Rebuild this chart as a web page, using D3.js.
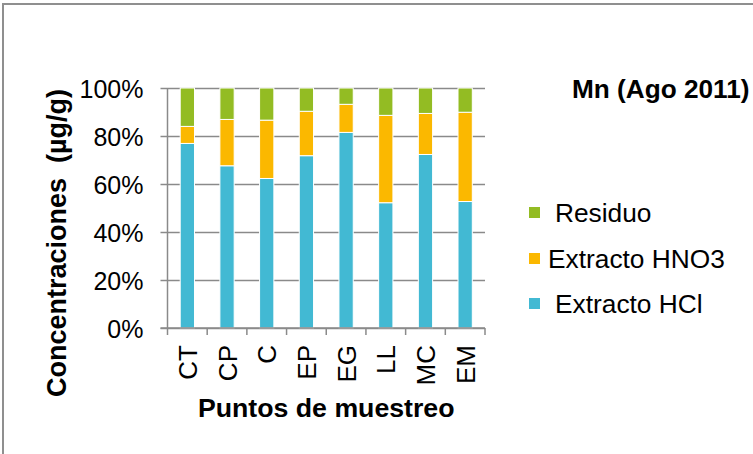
<!DOCTYPE html>
<html>
<head>
<meta charset="utf-8">
<script src="https://cdn.jsdelivr.net/npm/d3@7"></script>
<style>
  body { margin: 0; background: #fff; }
  svg { display: block; font-family: "Liberation Sans", Arial, sans-serif; }
</style>
</head>
<body>
<svg width="753" height="454"></svg>
<script>
// puntos de muestreo
var categories = ["CT", "CP", "C", "EP", "EG", "LL", "MC", "EM"];
// porcentajes
var hcl  = [76.9, 67.6, 62.3, 71.8, 81.5, 52.2, 72.3, 52.7];
var hno3 = [7.1, 19.3, 24.3, 18.5, 11.7, 36.4, 17.1, 37.2];
var residuo = [16.0, 13.1, 13.4, 9.7, 6.8, 11.4, 10.6, 10.1];
var seriesNames = ["Extracto HCl", "Extracto HNO3", "Residuo"];
var seriesColors = ["#42b9d3", "#fbb800", "#93bc23"];
var yTicks = [0, 20, 40, 60, 80, 100];

var svg = d3.select("svg");

// outer frame (only top and left edges are visible)
svg.append("rect")
    .attr("x", 3).attr("y", 4)
    .attr("width", 820).attr("height", 520)
    .attr("fill", "none")
    .attr("stroke", "#8f8f8f")
    .attr("stroke-width", 2);

var x0 = 167.5, x1 = 485, yTop = 88, yBot = 328;
var plotW = x1 - x0;

var x = d3.scaleBand()
    .domain(categories)
    .range([x0, x1])
    .paddingInner(0.64)
    .paddingOuter(0.32);

var y = d3.scaleLinear().domain([0, 100]).range([yBot, yTop]);

// gridlines + y axis labels
var yAxis = svg.append("g")
    .attr("transform", "translate(" + x0 + ",0)")
    .call(d3.axisLeft(y).tickValues(yTicks).tickFormat(function (d) { return d + "%"; }));
yAxis.select(".domain").remove();
yAxis.selectAll(".tick line")
    .attr("x1", -7).attr("x2", plotW)
    .attr("stroke", "#8a8a8a").attr("stroke-width", 1.5);
yAxis.selectAll(".tick text")
    .attr("x", -24)
    .attr("dy", "0.36em")
    .attr("font-size", 25)
    .attr("font-family", "Liberation Sans, Arial, sans-serif")
    .attr("fill", "#000");

// stacked bars
var table = categories.map(function (c, i) {
    return { cat: c, hcl: hcl[i], hno3: hno3[i], residuo: residuo[i] };
});
var stack = d3.stack().keys(["hcl", "hno3", "residuo"]);
var layers = stack(table);

svg.append("g").selectAll("g")
    .data(layers)
    .join("g")
    .attr("fill", function (d, i) { return seriesColors[i]; })
    .selectAll("rect")
    .data(function (d) { return d; })
    .join("rect")
    .attr("x", function (d) { return x(d.data.cat); })
    .attr("width", x.bandwidth())
    .attr("y", function (d) { return y(d[1]); })
    .attr("height", function (d) { return y(d[0]) - y(d[1]); })
    .attr("stroke", "#fff")
    .attr("stroke-width", 1);

// y axis line
svg.append("line")
    .attr("x1", x0).attr("x2", x0)
    .attr("y1", yTop).attr("y2", yBot)
    .attr("stroke", "#8a8a8a").attr("stroke-width", 1.5);

// x axis line + ticks between categories
svg.append("line")
    .attr("x1", x0 - 7).attr("x2", x1)
    .attr("y1", yBot).attr("y2", yBot)
    .attr("stroke", "#8a8a8a").attr("stroke-width", 1.5);
var step = x.step();
svg.append("g").selectAll("line")
    .data(d3.range(categories.length + 1))
    .join("line")
    .attr("x1", function (i) { return x0 + i * step; })
    .attr("x2", function (i) { return x0 + i * step; })
    .attr("y1", yBot).attr("y2", yBot + 7)
    .attr("stroke", "#8a8a8a").attr("stroke-width", 1.5);

// category labels, rotated
svg.append("g").selectAll("text")
    .data(categories)
    .join("text")
    .attr("transform", function (d) {
        return "translate(" + (x(d) + x.bandwidth() / 2 + 9.5) + "," + 345 + ") rotate(-90)";
    })
    .attr("text-anchor", "end")
    .attr("font-size", 26)
    .attr("fill", "#000")
    .text(function (d) { return d; });

// axis titles
svg.append("text")
    .attr("x", (x0 + x1) / 2).attr("y", 417)
    .attr("text-anchor", "middle")
    .attr("font-size", 26.7).attr("font-weight", "bold")
    .text("Puntos de muestreo");

svg.append("text")
    .attr("transform", "translate(66,243) rotate(-90)")
    .attr("text-anchor", "middle")
    .attr("font-size", 27).attr("font-weight", "bold")
    .style("white-space", "pre")
    .text("Concentraciones  (µg/g)");

// title
svg.append("text")
    .attr("x", 572).attr("y", 98)
    .attr("font-size", 26.2).attr("font-weight", "bold")
    .text("Mn (Ago 2011)");

// legend (top to bottom: Residuo, HNO3, HCl)
var legendRows = [
    { name: seriesNames[2], color: seriesColors[2], y: 212.5, tx: 555 },
    { name: seriesNames[1], color: seriesColors[1], y: 258.5, tx: 548 },
    { name: seriesNames[0], color: seriesColors[0], y: 303.5, tx: 555 }
];
var lg = svg.append("g").selectAll("g")
    .data(legendRows)
    .join("g");
lg.append("rect")
    .attr("x", 529).attr("y", function (d) { return d.y - 5.5; })
    .attr("width", 11).attr("height", 11)
    .attr("fill", function (d) { return d.color; });
lg.append("text")
    .attr("x", function (d) { return d.tx; })
    .attr("y", function (d) { return d.y + 9; })
    .attr("font-size", 26.3)
    .text(function (d) { return d.name; });
</script>
</body>
</html>
